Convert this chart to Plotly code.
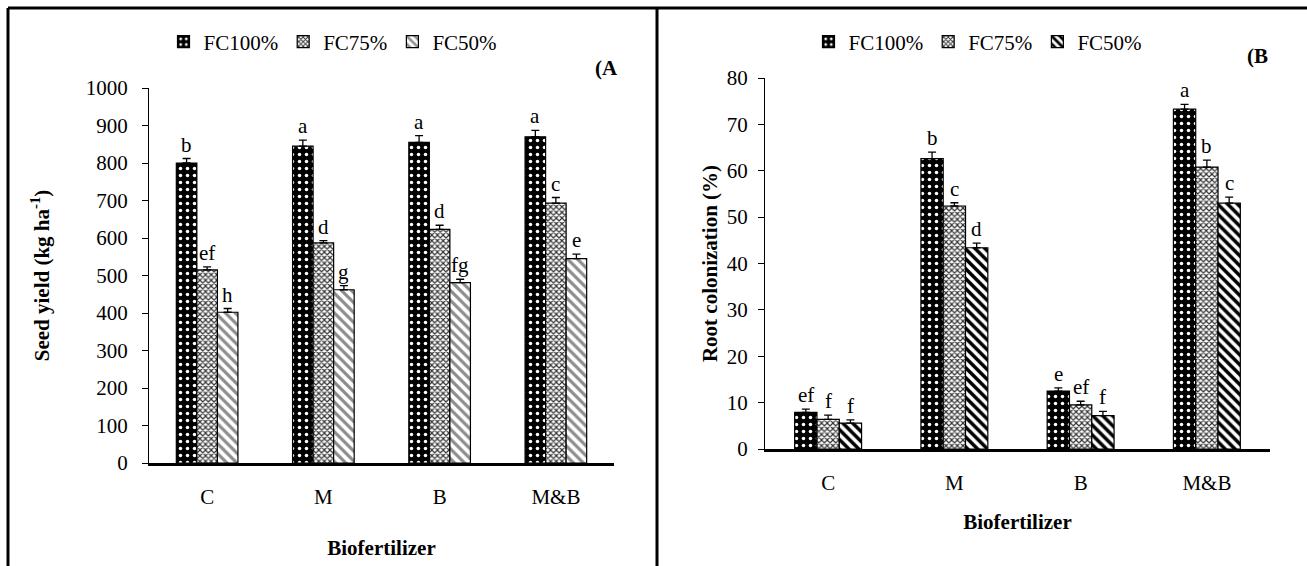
import plotly.graph_objects as go

W, H = 1307, 566

categories = ["C", "M", "B", "M&B"]
series_names = ["FC100%", "FC75%", "FC50%"]

# Panel A: seed yield (kg ha-1)
seed_fc100 = [800, 845, 855, 870]
seed_fc75 = [515, 587, 623, 693]
seed_fc50 = [402, 462, 481, 545]
seed_err_fc100 = [12, 16, 18, 17]
seed_err_fc75 = [8, 6, 11, 15]
seed_err_fc50 = [10, 11, 9, 12]
seed_letters_fc100 = ["b", "a", "a", "a"]
seed_letters_fc75 = ["ef", "d", "d", "c"]
seed_letters_fc50 = ["h", "g", "fg", "e"]

# Panel B: root colonization (%)
root_fc100 = [7.9, 62.6, 12.5, 73.3]
root_fc75 = [6.4, 52.4, 9.5, 60.8]
root_fc50 = [5.6, 43.4, 7.2, 53.0]
root_err_fc100 = [0.7, 1.4, 0.7, 1.0]
root_err_fc75 = [0.9, 0.7, 0.8, 1.5]
root_err_fc50 = [0.7, 1.0, 0.9, 1.3]
root_letters_fc100 = ["ef", "b", "e", "a"]
root_letters_fc75 = ["f", "c", "ef", "b"]
root_letters_fc50 = ["f", "d", "f", "c"]

FONT = "Liberation Serif"
BARGAP = 0.47
FS = 21

pat100 = dict(shape=".", bgcolor="black", fgcolor="white", size=7, solidity=0.2, fillmode="replace")
pat75 = dict(shape="x", bgcolor="white", fgcolor="#333333", size=4, solidity=0.5, fillmode="replace")
pat50_a = dict(shape="\\", bgcolor="white", fgcolor="#8c8c8c", size=7, solidity=0.45, fillmode="replace")
pat50_b = dict(shape="\\", bgcolor="white", fgcolor="black", size=7, solidity=0.5, fillmode="replace")

fig = go.Figure()

panels = [
    dict(vals=[seed_fc100, seed_fc75, seed_fc50],
         errs=[seed_err_fc100, seed_err_fc75, seed_err_fc50],
         letters=[seed_letters_fc100, seed_letters_fc75, seed_letters_fc50],
         pats=[pat100, pat75, pat50_a], xa="x", ya="y", leg="legend"),
    dict(vals=[root_fc100, root_fc75, root_fc50],
         errs=[root_err_fc100, root_err_fc75, root_err_fc50],
         letters=[root_letters_fc100, root_letters_fc75, root_letters_fc50],
         pats=[pat100, pat75, pat50_b], xa="x2", ya="y2", leg="legend2"),
]

annotations = []
bw = (1 - BARGAP) / 3
for p in panels:
    for j, name in enumerate(series_names):
        fig.add_trace(go.Bar(
            x=categories, y=p["vals"][j], name=name,
            xaxis=p["xa"], yaxis=p["ya"], legend=p["leg"],
            marker=dict(color="white", pattern=p["pats"][j],
                        line=dict(color="black", width=1.2)),
            error_y=dict(type="data", array=p["errs"][j],
                         arrayminus=[0] * len(categories), symmetric=False,
                         color="black", thickness=1.3, width=4),
        ))
        for i, cat in enumerate(categories):
            annotations.append(dict(
                x=i + (j - 1) * bw, y=p["vals"][j][i] + p["errs"][j][i],
                xref=p["xa"], yref=p["ya"], text=p["letters"][j][i],
                showarrow=False, yanchor="bottom", yshift=0,
                font=dict(family=FONT, size=FS, color="black")))

annotations += [
    dict(x=620 / W, y=1 - 68 / H, xref="paper", yref="paper", text="<b>(A</b>",
         showarrow=False, xanchor="right", yanchor="middle",
         font=dict(family=FONT, size=FS, color="black")),
    dict(x=1270 / W, y=1 - 56 / H, xref="paper", yref="paper", text="<b>(B</b>",
         showarrow=False, xanchor="right", yanchor="middle",
         font=dict(family=FONT, size=FS, color="black")),
]

shapes = [
    dict(type="line", xref="paper", yref="paper", x0=8 / W, x1=1, y0=1 - 8 / H, y1=1 - 8 / H,
         line=dict(color="black", width=3)),
    dict(type="line", xref="paper", yref="paper", x0=8 / W, x1=8 / W, y0=0, y1=1 - 8 / H,
         line=dict(color="black", width=3)),
    dict(type="line", xref="paper", yref="paper", x0=657 / W, x1=657 / W, y0=0, y1=1 - 8 / H,
         line=dict(color="black", width=3)),
]

tickfont = dict(family=FONT, size=FS, color="black")
titlefont = dict(family=FONT, size=FS, color="black")

def xaxis(domain, anchor, standoff):
    return dict(domain=domain, anchor=anchor, type="category",
                showline=True, linecolor="black", linewidth=2.5,
                ticks="outside", ticklen=13, tickcolor="rgba(0,0,0,0)",
                tickfont=tickfont, showgrid=False, zeroline=False,
                title=dict(text="<b>Biofertilizer</b>", font=titlefont, standoff=standoff),
                automargin=False)

def yaxis(domain, anchor, rng, dtick, title, standoff, lblstand):
    return dict(domain=domain, anchor=anchor, range=rng, dtick=dtick,
                showline=True, linecolor="black", linewidth=1.3,
                ticks="outside", ticklen=6, tickwidth=1.3, tickcolor="black",
                ticklabelstandoff=lblstand,
                tickfont=tickfont, showgrid=False, zeroline=False,
                title=dict(text=title, font=titlefont, standoff=standoff),
                automargin=False)

fig.update_layout(
    width=W, height=H, margin=dict(l=0, r=0, t=0, b=0),
    paper_bgcolor="white", plot_bgcolor="white",
    barmode="group", bargap=BARGAP, bargroupgap=0,
    font=dict(family=FONT, color="black"),
    xaxis=xaxis([149 / W, 614 / W], "y", 33),
    yaxis=yaxis([1 - 463 / H, 1 - 88 / H], "x", [0, 1000], 100,
                "<b>Seed yield (kg ha<sup>-1</sup>)</b>", 30, 10),
    xaxis2=xaxis([765 / W, 1270 / W], "y2", 21),
    yaxis2=yaxis([1 - 449 / H, 1 - 78 / H], "x2", [0, 80], 10,
                 "<b>Root colonization (%)</b>", 3, 6),
    legend=dict(orientation="h", x=333 / W, xanchor="center", y=1 - 42 / H, yanchor="middle",
                font=dict(family=FONT, size=FS, color="black"), bgcolor="rgba(0,0,0,0)",
                itemwidth=30, tracegroupgap=0),
    legend2=dict(orientation="h", x=978 / W, xanchor="center", y=1 - 42 / H, yanchor="middle",
                 font=dict(family=FONT, size=FS, color="black"), bgcolor="rgba(0,0,0,0)",
                 itemwidth=30, tracegroupgap=0),
    annotations=annotations, shapes=shapes,
)

fig.write_html("out.html", config={"displayModeBar": False},
               post_script="document.body.style.margin='0px';")
